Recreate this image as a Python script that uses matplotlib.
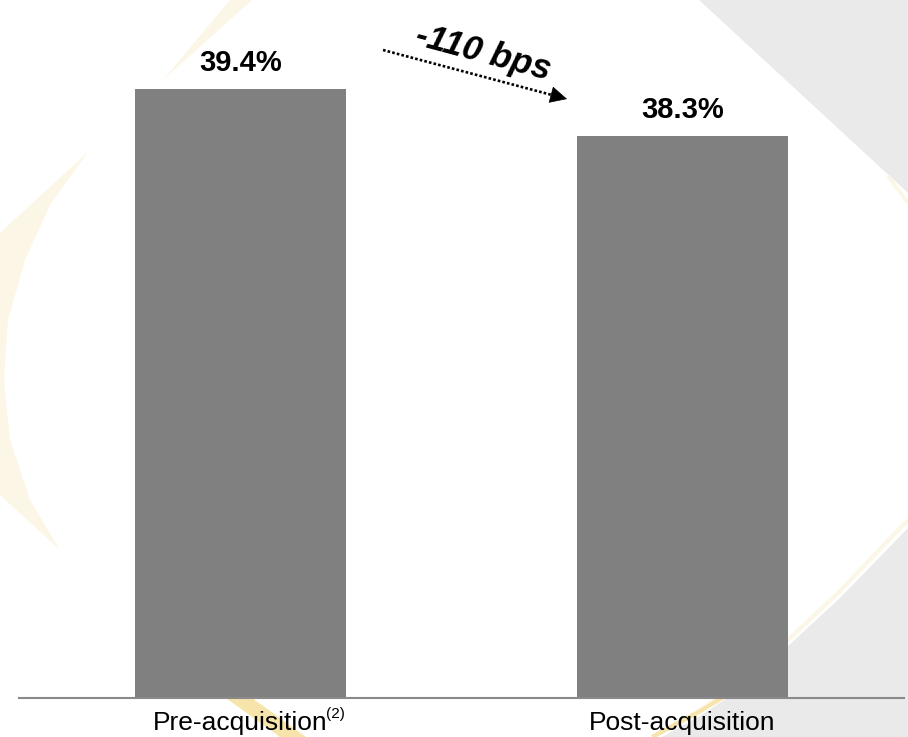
import matplotlib
matplotlib.use("Agg")
import matplotlib.pyplot as plt
from matplotlib.patches import Polygon
from matplotlib.lines import Line2D

plt.rcParams["font.family"] = ["Liberation Sans", "DejaVu Sans"]

# ---- data -------------------------------------------------------------
categories = ["Pre-acquisition", "Post-acquisition"]
footnotes = ["(2)", ""]
margins = [39.4, 38.3]
value_labels = ["39.4%", "38.3%"]
change_label = "-110 bps"

# value range shown on the (truncated) vertical scale
y_floor = 25.1
y_ceiling = 41.5

W, H = 908, 737
fig = plt.figure(figsize=(W / 100, H / 100), dpi=100)
fig.patch.set_facecolor("white")


def fig_xy(points):
    """pixel coordinates (origin top-left) -> figure fractions"""
    return [(x / W, 1 - y / H) for x, y in points]


def add_shape(points, color, z=-5):
    fig.add_artist(Polygon(fig_xy(points), closed=True, facecolor=color,
                           edgecolor="none", transform=fig.transFigure, zorder=z))


def add_stroke(points, color, lw, z=-4, ls="-"):
    xy = fig_xy(points)
    fig.add_artist(Line2D([p[0] for p in xy], [p[1] for p in xy], color=color,
                          lw=lw, ls=ls, transform=fig.transFigure, zorder=z,
                          solid_capstyle="butt"))


# ---- slide background decoration --------------------------------------
grey_bg = "#EAEAEA"
cream = "#FCF6E6"
gold = "#F7E4AA"

add_shape([(699, 0), (908, 0), (908, 193)], grey_bg)
add_shape([(908, 528), (840, 598), (788, 646), (742, 688), (700, 716),
           (662, 737), (908, 737)], grey_bg)
add_stroke([(908, 520), (840, 591), (786, 642), (738, 685), (697, 712),
            (656, 735)], cream, 3.0)
add_stroke([(735, 690), (697, 713), (652, 737)], gold, 3.0)
add_stroke([(888, 176), (908, 203)], cream, 2.5)

# left crescent
add_shape([(252, 0), (230, 0), (163, 80)], cream)
add_shape([(88, 152), (0, 233), (0, 495), (60, 550), (30, 500), (10, 440),
           (4, 380), (8, 320), (25, 260), (50, 205)], cream)
add_shape([(226, 698), (252, 698), (306, 737), (280, 737)], gold)

# ---- bars -------------------------------------------------------------
ax = fig.add_axes([19 / W, 39 / H, 885 / W, 698 / H])
ax.set_facecolor("none")

x = list(range(len(categories)))
ax.bar(x, margins, width=0.477, bottom=0, color="#808080", zorder=2)
ax.set_xlim(-0.501, 1.501)
ax.set_ylim(y_floor, y_ceiling)

for s in ["top", "left", "right"]:
    ax.spines[s].set_visible(False)
ax.spines["bottom"].set_color("#8A8A8A")
ax.spines["bottom"].set_linewidth(1.5)
ax.set_xticks([])
ax.set_yticks([])

# value labels above each bar
for xi, v, lab in zip(x, margins, value_labels):
    ax.annotate(lab, xy=(xi, v), xytext=(0, 13), textcoords="offset points",
                ha="center", va="baseline", fontsize=21, fontweight="bold",
                color="black")

# category labels under the axis, with footnote marks
for xi, cat, note in zip(x, categories, footnotes):
    t = ax.annotate(cat, xy=(xi, 0), xycoords=("data", "axes fraction"),
                    xytext=(0, -23), textcoords="offset points",
                    ha="center", va="baseline", fontsize=19, color="black",
                    annotation_clip=False)
    if note:
        ax.annotate(note, xy=(1, 1), xycoords=t, xytext=(-1.5, 2.5),
                    textcoords="offset points", ha="left", va="top",
                    fontsize=11, color="black", annotation_clip=False)

# ---- change arrow -----------------------------------------------------
x0, y0 = 383, 50
x1, y1 = 567, 99
add_stroke([(x0, y0), (x1 - 9, y1 - 2.4)], "black", 1.9, z=5, ls=(0, (1, 0.8)))
ax.annotate("", xy=(x1, H - y1), xytext=(x1 - 12, H - y1 + 3.2),
            xycoords="figure pixels", textcoords="figure pixels",
            arrowprops=dict(arrowstyle="-|>,head_length=0.7,head_width=0.35",
                            color="black", lw=0.5, shrinkA=0, shrinkB=0,
                            mutation_scale=16),
            annotation_clip=False)
ax.annotate(change_label, xy=(481, H - 62), xycoords="figure pixels",
            ha="center", va="baseline", rotation=-15, rotation_mode="anchor",
            fontsize=25, fontweight="bold", fontstyle="italic", color="black",
            annotation_clip=False)

fig.savefig("out.png", dpi=100)
